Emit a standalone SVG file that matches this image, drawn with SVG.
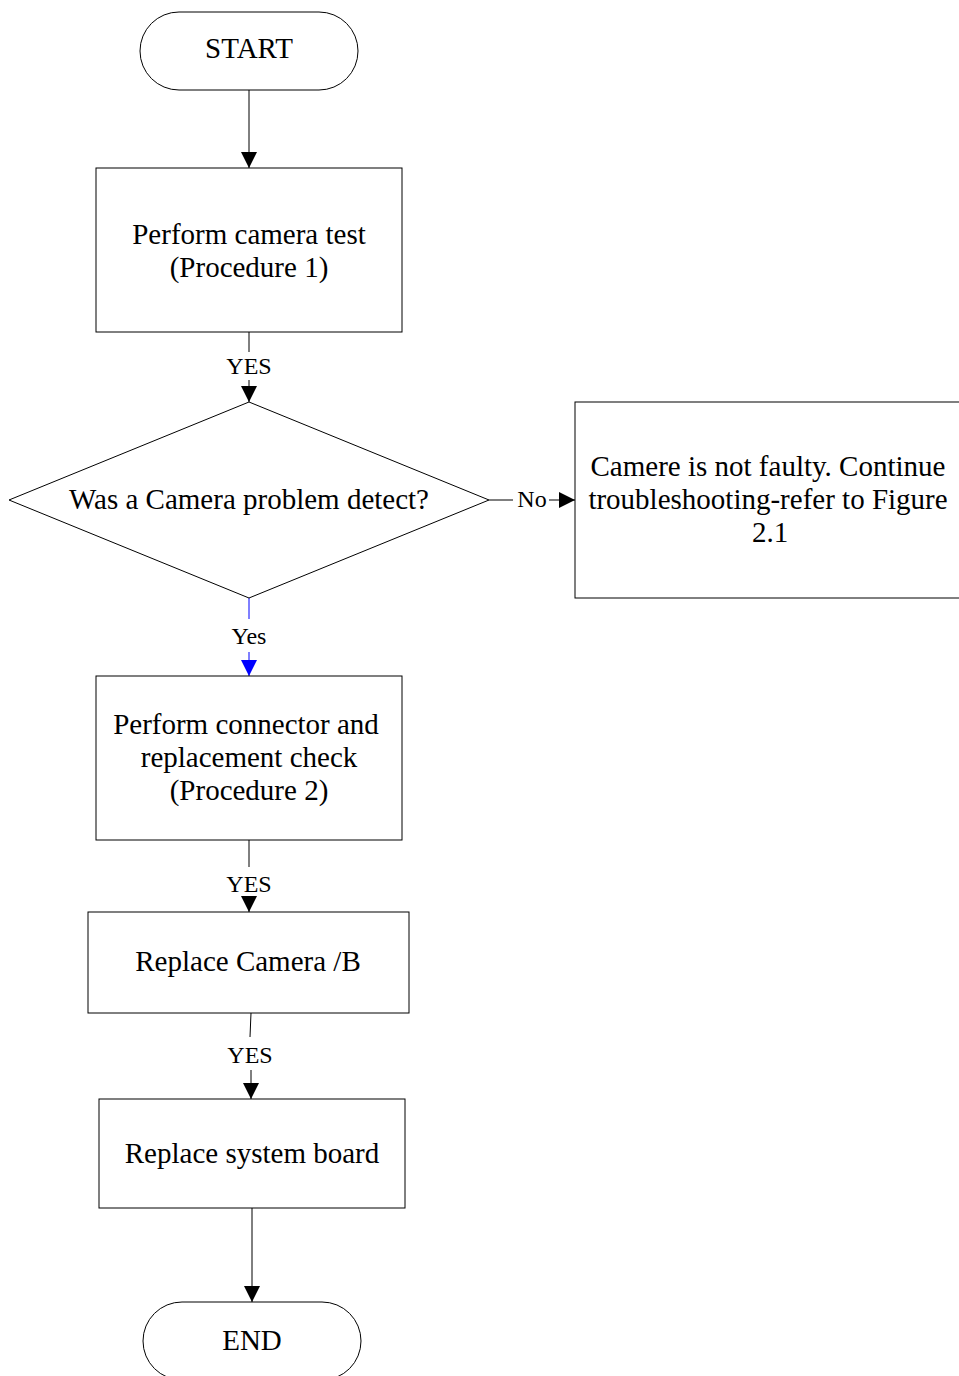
<svg xmlns="http://www.w3.org/2000/svg" width="959" height="1376" viewBox="0 0 959 1376">
<style>
.n{fill:#fff;stroke:#000;stroke-width:1}
.t{font-family:"Liberation Serif","DejaVu Serif",serif;font-size:29px;fill:#000;text-anchor:middle;dominant-baseline:central}
.l{font-family:"Liberation Serif","DejaVu Serif",serif;font-size:24px;fill:#000;text-anchor:middle;dominant-baseline:central}
.c{stroke:#000;stroke-width:1;fill:none}
.b{stroke:#0000ff;stroke-width:1;fill:none}
</style>
<defs>
<marker id="a" markerWidth="16" markerHeight="16" refX="16" refY="8" orient="auto" markerUnits="userSpaceOnUse"><path d="M0,0 L16,8 L0,16 Z" fill="#000"/></marker>
<marker id="ab" markerWidth="16" markerHeight="16" refX="16" refY="8" orient="auto" markerUnits="userSpaceOnUse"><path d="M0,0 L16,8 L0,16 Z" fill="#0000ff"/></marker>
</defs>
<rect width="959" height="1376" fill="#fff"/>
<g id="connectors">
<line class="c" x1="249" y1="90" x2="249" y2="168" marker-end="url(#a)"/>
<line class="c" x1="249" y1="332" x2="249" y2="352"/>
<text class="l" x="249" y="366">YES</text>
<line class="c" x1="249" y1="380" x2="249" y2="402" marker-end="url(#a)"/>
<line class="c" x1="489" y1="500" x2="513" y2="500"/>
<text class="l" x="532" y="499">No</text>
<line class="c" x1="549" y1="500" x2="575" y2="500" marker-end="url(#a)"/>
<line class="b" x1="249" y1="598" x2="249" y2="619"/>
<text class="l" x="249" y="636">Yes</text>
<line class="b" x1="249" y1="652" x2="249" y2="676" marker-end="url(#ab)"/>
<line class="c" x1="249" y1="840" x2="249" y2="867"/>
<text class="l" x="249" y="884">YES</text>
<line class="c" x1="249" y1="898" x2="249" y2="912" marker-end="url(#a)"/>
<line class="c" x1="251" y1="1013" x2="250" y2="1037"/>
<text class="l" x="250" y="1055">YES</text>
<line class="c" x1="251" y1="1070" x2="251" y2="1099" marker-end="url(#a)"/>
<line class="c" x1="252" y1="1208" x2="252" y2="1302" marker-end="url(#a)"/>
</g>
<g id="start">
<rect class="n" x="140" y="12" width="218" height="78" rx="39" ry="39"/>
<text class="t" x="249" y="48">START</text>
</g>
<g id="test">
<rect class="n" x="96" y="168" width="306" height="164"/>
<text class="t" x="249" y="234">Perform camera test</text>
<text class="t" x="249" y="267">(Procedure 1)</text>
</g>
<g id="decision">
<polygon class="n" points="9,500 249,402 489,500 249,598"/>
<text class="t" x="249" y="499">Was a Camera problem detect?</text>
</g>
<g id="notfaulty">
<rect class="n" x="575" y="402" width="390" height="196"/>
<text class="t" x="768" y="466">Camere is not faulty. Continue</text>
<text class="t" x="768" y="499">troubleshooting-refer to Figure</text>
<text class="t" x="770" y="532">2.1</text>
</g>
<g id="check">
<rect class="n" x="96" y="676" width="306" height="164"/>
<text class="t" x="246" y="724">Perform connector and</text>
<text class="t" x="249" y="757">replacement check</text>
<text class="t" x="249" y="790">(Procedure 2)</text>
</g>
<g id="camera">
<rect class="n" x="88" y="912" width="321" height="101"/>
<text class="t" x="248" y="961">Replace Camera /B</text>
</g>
<g id="board">
<rect class="n" x="99" y="1099" width="306" height="109"/>
<text class="t" x="252" y="1153">Replace system board</text>
</g>
<g id="end">
<rect class="n" x="143" y="1302" width="218" height="78" rx="39" ry="39"/>
<text class="t" x="252" y="1340">END</text>
</g>
</svg>
